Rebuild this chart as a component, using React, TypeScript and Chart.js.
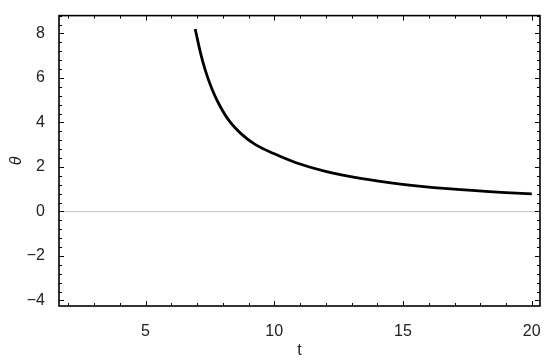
import React, { useEffect, useRef } from "react";
import { Chart, registerables } from "chart.js";

Chart.register(...registerables);

const tValues = [6.93, 7.13, 7.32, 7.58, 7.84, 8.23, 8.75, 9.27, 9.98, 10.82, 11.99, 13.35, 14.9, 16.86, 18.8, 20];
const thetaValues = [8.2, 7.15, 6.35, 5.5, 4.85, 4.1, 3.45, 3.0, 2.6, 2.2, 1.8, 1.48, 1.23, 1.01, 0.86, 0.79];
const xTickLabels = [5, 10, 15, 20];
const yTickLabels = [-4, -2, 0, 2, 4, 6, 8];
const xMinorStep = 1;
const yMinorStep = 0.4;

const framePlugin = {
  id: "frame",
  beforeDatasetsDraw(chart: any) {
    const { ctx, chartArea: a, scales } = chart;
    const y0 = Math.round(scales.y.getPixelForValue(0)) + 0.5;
    ctx.save();
    ctx.strokeStyle = "#c8c8c8";
    ctx.lineWidth = 1;
    ctx.beginPath();
    ctx.moveTo(a.left, y0);
    ctx.lineTo(a.right, y0);
    ctx.stroke();
    ctx.restore();
  },
  afterDraw(chart: any) {
    const { ctx, chartArea: a, scales } = chart;
    const xs = scales.x;
    const ys = scales.y;
    ctx.save();
    ctx.strokeStyle = "#000";
    ctx.lineWidth = 1;
    const major = 5;
    const minor = 3;
    const xStart = Math.ceil(xs.min / xMinorStep) * xMinorStep;
    for (let v = xStart; v <= xs.max + 1e-9; v += xMinorStep) {
      const vv = Math.round(v * 1000) / 1000;
      const isMajor = xTickLabels.includes(vv);
      const len = isMajor ? major : minor;
      const px = Math.round(xs.getPixelForValue(vv)) + 0.5;
      ctx.beginPath();
      ctx.moveTo(px, a.bottom);
      ctx.lineTo(px, a.bottom - len);
      ctx.moveTo(px, a.top);
      ctx.lineTo(px, a.top + len);
      ctx.stroke();
    }
    const yStart = Math.ceil(ys.min / yMinorStep) * yMinorStep;
    for (let v = yStart; v <= ys.max + 1e-9; v += yMinorStep) {
      const vv = Math.round(v * 1000) / 1000;
      const isMajor = yTickLabels.some((t) => Math.abs(t - vv) < 1e-6);
      const len = isMajor ? major : minor;
      const py = Math.round(ys.getPixelForValue(vv)) + 0.5;
      ctx.beginPath();
      ctx.moveTo(a.left, py);
      ctx.lineTo(a.left + len, py);
      ctx.moveTo(a.right, py);
      ctx.lineTo(a.right - len, py);
      ctx.stroke();
    }
    ctx.lineWidth = 1.6;
    ctx.strokeRect(a.left, a.top, a.right - a.left, a.bottom - a.top);
    ctx.restore();
  },
};

export default function App() {
  const ref = useRef<HTMLCanvasElement>(null);
  useEffect(() => {
    document.body.style.margin = "0";
    const chart = new Chart(ref.current as HTMLCanvasElement, {
      type: "scatter",
      data: {
        datasets: [
          {
            data: tValues.map((t, i) => ({ x: t, y: thetaValues[i] })),
            showLine: true,
            borderColor: "#000",
            borderWidth: 2.8,
            pointRadius: 0,
            cubicInterpolationMode: "monotone",
            fill: false,
          },
        ],
      },
      options: {
        responsive: false,
        animation: false,
        layout: { padding: { left: 0, top: 9, right: 10, bottom: 0 } },
        plugins: { legend: { display: false }, tooltip: { enabled: false } },
        scales: {
          x: {
            type: "linear",
            min: 1.64,
            max: 20.32,
            afterBuildTicks: (s: any) => {
              s.ticks = xTickLabels.map((v) => ({ value: v }));
            },
            afterFit: (s: any) => {
              s.height = 58;
            },
            grid: { display: false },
            border: { display: false },
            ticks: {
              padding: 8,
              maxRotation: 0,
              color: "#222",
              font: { family: "Liberation Sans, Arial, sans-serif", size: 16 },
            },
            title: {
              display: true,
              text: "t",
              color: "#222",
              padding: { top: 4, bottom: 4 },
              font: { family: "Liberation Sans, Arial, sans-serif", size: 16 },
            },
          },
          y: {
            type: "linear",
            min: -4.25,
            max: 8.8,
            afterBuildTicks: (s: any) => {
              s.ticks = yTickLabels.map((v) => ({ value: v }));
            },
            afterFit: (s: any) => {
              s.width = 59;
            },
            grid: { display: false },
            border: { display: false },
            ticks: {
              padding: 6,
              color: "#222",
              font: { family: "Liberation Sans, Arial, sans-serif", size: 16 },
              callback: (v: any) => (v < 0 ? "\u2212" + Math.abs(v) : String(v)),
            },
            title: {
              display: true,
              text: "\u03b8",
              color: "#222",
              padding: { top: 7, bottom: 7 },
              font: { family: "Liberation Sans, Arial, sans-serif", size: 16, style: "italic" },
            },
          },
        },
      },
      plugins: [framePlugin],
    } as any);
    return () => chart.destroy();
  }, []);
  return (
    <div style={{ position: "absolute", left: 0, top: 0, width: 550, height: 364 }}>
      <canvas ref={ref} width={550} height={364} />
    </div>
  );
}
